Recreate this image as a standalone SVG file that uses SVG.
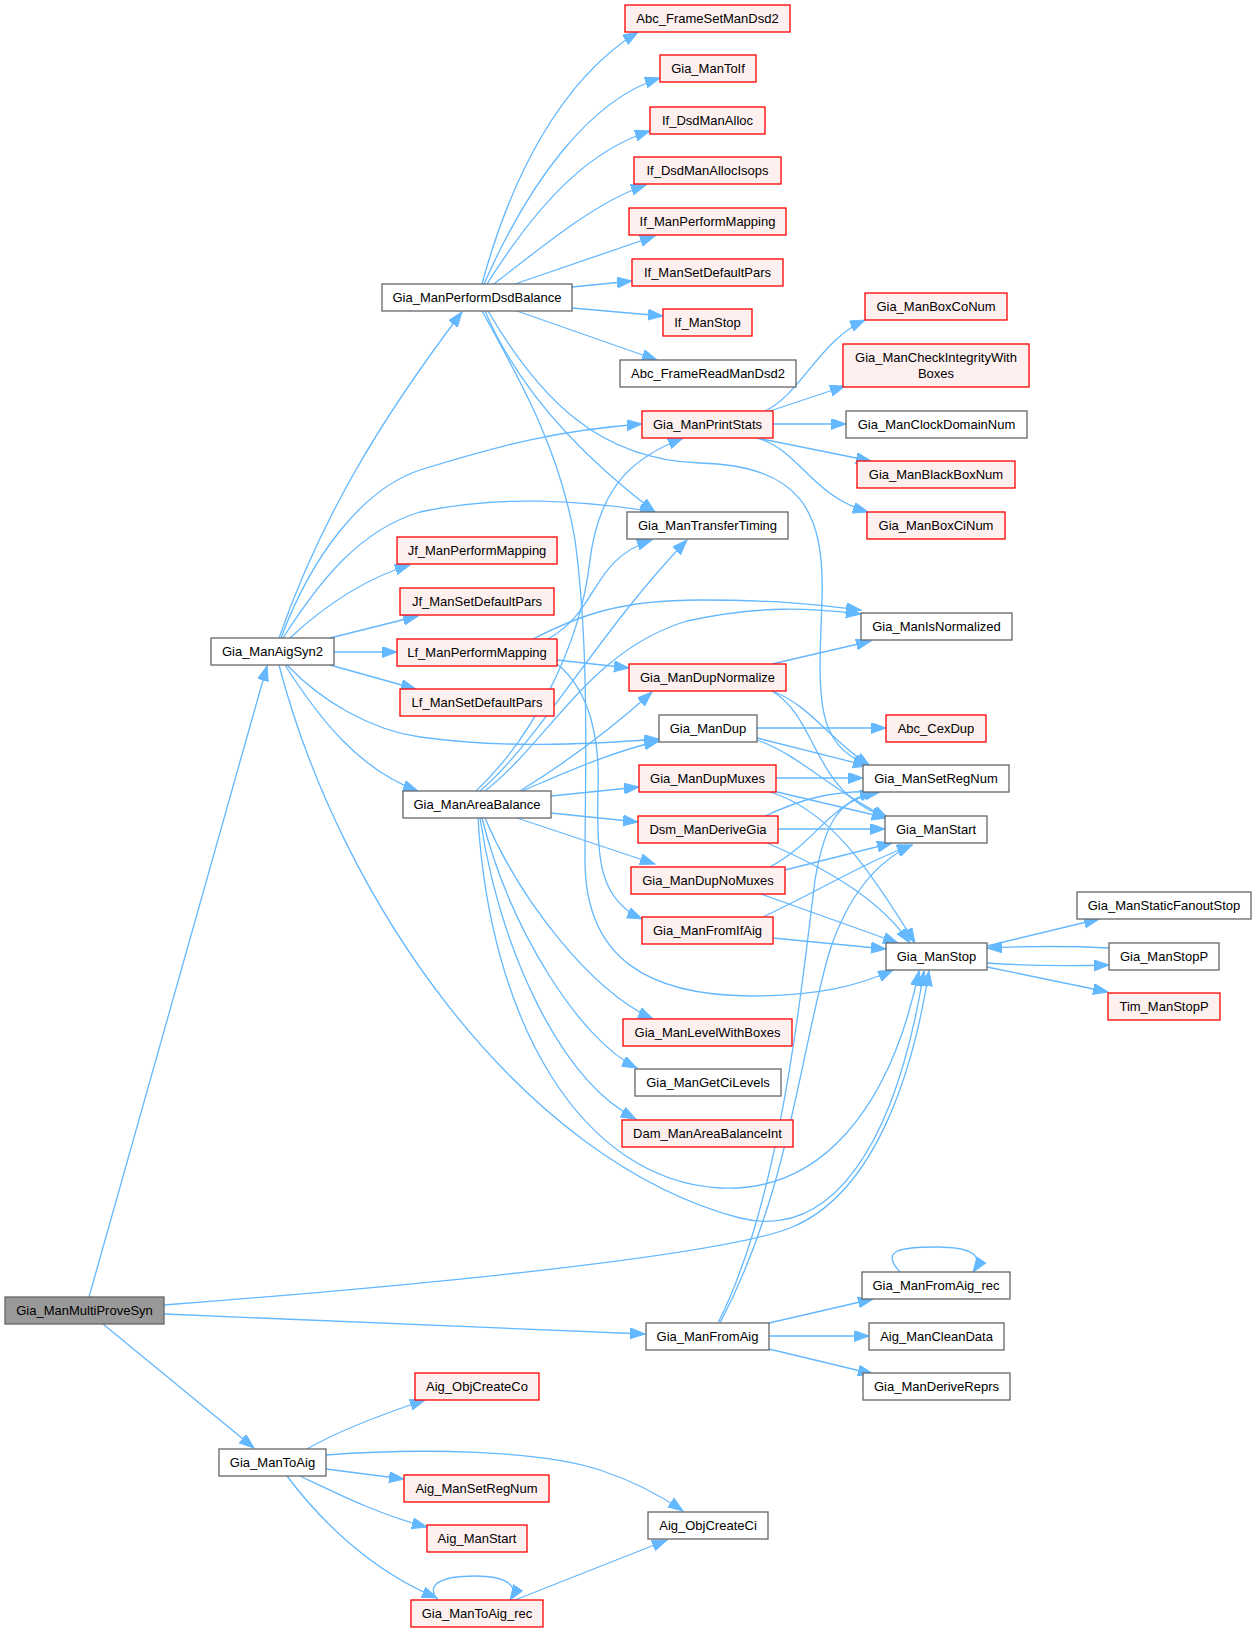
<svg xmlns="http://www.w3.org/2000/svg" width="1257" height="1632" viewBox="0 0 1257 1632">
<style>
rect{fill:#fff;stroke:#666;stroke-width:1.3}
.r rect{fill:#fff0f0;stroke:#ff0000}
.root rect{fill:#999;stroke:#666}
text{font-family:"Liberation Sans",Arial,sans-serif;font-size:13px;text-anchor:middle;fill:#000}
#edges path{fill:none;stroke:#63b8ff;stroke-width:1.3;marker-end:url(#a)}
</style>
<defs>
<marker id="a" markerUnits="userSpaceOnUse" markerWidth="16" markerHeight="12" refX="15" refY="5.5" orient="auto"><path d="M0,0 L15,5.5 L0,11 z" fill="#63b8ff" stroke="#63b8ff" stroke-width="1"/></marker>
</defs>
<rect x="0" y="0" width="1257" height="1632" style="fill:#fff;stroke:none"/>
<g id="edges">
<path d="M89,1297 L267,666"/>
<path d="M164,1305 C450,1283 720,1255 790,1228 C880,1192 915,1060 929,971"/>
<path d="M164,1314 L645,1334"/>
<path d="M103,1324 L254,1448"/>
<path d="M279,638 C320,520 380,420 462,312"/>
<path d="M281,638 C310,560 360,490 420,470 C500,445 560,430 642,424"/>
<path d="M283,638 C320,580 360,530 420,512 C500,495 580,500 655,512"/>
<path d="M290,638 C320,610 360,580 410,565"/>
<path d="M330,638 L418,616"/>
<path d="M334,652 L397,652"/>
<path d="M330,665 L416,689"/>
<path d="M287,665 C320,700 370,730 420,737 C500,748 580,745 659,739"/>
<path d="M285,665 C320,720 360,770 418,791"/>
<path d="M279,665 C340,900 520,1160 740,1218 C830,1240 895,1150 924,971"/>
<path d="M482,284 C510,180 560,80 638,32"/>
<path d="M484,284 C530,180 590,100 660,78"/>
<path d="M487,284 C540,200 590,150 650,131"/>
<path d="M494,284 C550,240 600,200 646,185"/>
<path d="M515,284 L655,236"/>
<path d="M572,287 L632,281"/>
<path d="M572,308 L663,316"/>
<path d="M517,311 L657,360"/>
<path d="M485,311 C510,370 560,440 655,512"/>
<path d="M488,311 C540,400 600,460 700,463 C800,466 825,510 822,600 C818,700 815,745 869,765"/>
<path d="M482,311 C520,380 560,450 575,540 C590,650 585,780 585,860 C585,960 650,995 750,996 C820,996 860,985 893,970"/>
<path d="M765,411 C800,395 820,340 865,320"/>
<path d="M770,411 L845,386"/>
<path d="M773,424 L846,424"/>
<path d="M757,438 L871,461"/>
<path d="M757,438 C800,450 810,495 868,512"/>
<path d="M548,639 C600,610 590,560 652,540"/>
<path d="M533,639 C580,615 620,600 700,600 C780,600 820,605 861,610"/>
<path d="M557,660 L629,668"/>
<path d="M557,664 C590,690 600,740 598,790 C596,860 600,900 642,919"/>
<path d="M476,791 C530,740 580,650 590,560 C600,480 640,455 683,438"/>
<path d="M480,791 C540,740 600,630 687,540"/>
<path d="M485,791 C550,740 590,650 687,621 C760,605 810,608 861,614"/>
<path d="M520,791 C570,760 610,730 652,692"/>
<path d="M522,791 C560,775 610,752 659,741"/>
<path d="M551,796 L639,787"/>
<path d="M551,813 L638,822"/>
<path d="M517,818 L655,864"/>
<path d="M485,818 C520,900 590,990 653,1019"/>
<path d="M482,818 C510,930 580,1040 637,1068"/>
<path d="M480,818 C500,950 560,1080 636,1119"/>
<path d="M478,818 C490,1020 580,1180 720,1188 C820,1193 890,1110 919,971"/>
<path d="M772,664 L871,641"/>
<path d="M772,691 C810,705 830,740 870,766"/>
<path d="M772,691 C820,720 810,790 887,818"/>
<path d="M757,728 L886,728"/>
<path d="M757,738 L868,766"/>
<path d="M757,740 C800,755 830,790 888,818"/>
<path d="M776,778 L863,778"/>
<path d="M773,791 L887,818"/>
<path d="M770,792 C830,810 870,870 915,943"/>
<path d="M778,829 L885,829"/>
<path d="M765,816 C800,800 830,790 878,792"/>
<path d="M767,843 C830,870 880,900 910,943"/>
<path d="M770,867 C820,840 830,800 880,792"/>
<path d="M785,870 L892,843"/>
<path d="M758,893 L898,943"/>
<path d="M763,917 C820,890 870,860 912,845"/>
<path d="M773,938 L886,949"/>
<path d="M987,946 L1099,919"/>
<path d="M987,963 C1030,966 1070,966 1109,965"/>
<path d="M1109,948 C1070,946 1030,946 987,948"/>
<path d="M987,967 L1108,992"/>
<path d="M769,1323 L873,1299"/>
<path d="M769,1336 L869,1336"/>
<path d="M769,1349 L873,1374"/>
<path d="M718,1323 C780,1200 800,1000 815,880 C825,820 840,800 875,792"/>
<path d="M720,1323 C790,1190 800,1050 830,950 C850,890 880,860 912,845"/>
<path d="M900,1272 C880,1250 900,1247 937,1247 C970,1247 985,1255 973,1272"/>
<path d="M307,1449 C340,1430 380,1415 425,1400"/>
<path d="M326,1455 C420,1448 540,1450 600,1470 C630,1480 660,1495 683,1511"/>
<path d="M326,1469 L404,1479"/>
<path d="M300,1476 C340,1495 380,1515 427,1527"/>
<path d="M287,1476 C320,1520 370,1570 437,1598"/>
<path d="M438,1600 C425,1585 440,1576 475,1576 C505,1576 520,1585 510,1600"/>
<path d="M515,1600 L667,1540"/>
</g>
<g id="n0" class="root"><rect x="5" y="1297" width="159" height="27"/><text x="84.5" y="1315">Gia_ManMultiProveSyn</text></g>
<g id="n1"><rect x="211" y="638" width="123" height="27"/><text x="272.5" y="656">Gia_ManAigSyn2</text></g>
<g id="n2"><rect x="382" y="284" width="190" height="27"/><text x="477" y="302">Gia_ManPerformDsdBalance</text></g>
<g id="n3" class="r"><rect x="625" y="5" width="165" height="27"/><text x="707.5" y="23">Abc_FrameSetManDsd2</text></g>
<g id="n4" class="r"><rect x="660" y="55" width="96" height="27"/><text x="708" y="73">Gia_ManToIf</text></g>
<g id="n5" class="r"><rect x="650" y="107" width="115" height="27"/><text x="707.5" y="125">If_DsdManAlloc</text></g>
<g id="n6" class="r"><rect x="634" y="157" width="147" height="27"/><text x="707.5" y="175">If_DsdManAllocIsops</text></g>
<g id="n7" class="r"><rect x="629" y="208" width="157" height="27"/><text x="707.5" y="226">If_ManPerformMapping</text></g>
<g id="n8" class="r"><rect x="632" y="259" width="151" height="27"/><text x="707.5" y="277">If_ManSetDefaultPars</text></g>
<g id="n9" class="r"><rect x="663" y="309" width="89" height="27"/><text x="707.5" y="327">If_ManStop</text></g>
<g id="n10"><rect x="620" y="360" width="176" height="27"/><text x="708" y="378">Abc_FrameReadManDsd2</text></g>
<g id="n11" class="r"><rect x="642" y="411" width="131" height="27"/><text x="707.5" y="429">Gia_ManPrintStats</text></g>
<g id="n12" class="r"><rect x="865" y="293" width="142" height="27"/><text x="936" y="311">Gia_ManBoxCoNum</text></g>
<g id="n13" class="r"><rect x="843" y="344" width="186" height="43"/><text x="936" y="362">Gia_ManCheckIntegrityWith</text><text x="936" y="378">Boxes</text></g>
<g id="n14"><rect x="846" y="411" width="181" height="27"/><text x="936.5" y="429">Gia_ManClockDomainNum</text></g>
<g id="n15" class="r"><rect x="857" y="461" width="158" height="27"/><text x="936" y="479">Gia_ManBlackBoxNum</text></g>
<g id="n16" class="r"><rect x="867" y="512" width="138" height="27"/><text x="936" y="530">Gia_ManBoxCiNum</text></g>
<g id="n17"><rect x="627" y="512" width="161" height="27"/><text x="707.5" y="530">Gia_ManTransferTiming</text></g>
<g id="n18" class="r"><rect x="397" y="537" width="160" height="27"/><text x="477" y="555">Jf_ManPerformMapping</text></g>
<g id="n19" class="r"><rect x="400" y="588" width="154" height="27"/><text x="477" y="606">Jf_ManSetDefaultPars</text></g>
<g id="n20" class="r"><rect x="397" y="639" width="160" height="27"/><text x="477" y="657">Lf_ManPerformMapping</text></g>
<g id="n21" class="r"><rect x="400" y="689" width="154" height="27"/><text x="477" y="707">Lf_ManSetDefaultPars</text></g>
<g id="n22"><rect x="861" y="613" width="151" height="27"/><text x="936.5" y="631">Gia_ManIsNormalized</text></g>
<g id="n23" class="r"><rect x="629" y="664" width="157" height="27"/><text x="707.5" y="682">Gia_ManDupNormalize</text></g>
<g id="n24"><rect x="659" y="715" width="98" height="27"/><text x="708" y="733">Gia_ManDup</text></g>
<g id="n25" class="r"><rect x="886" y="715" width="100" height="27"/><text x="936" y="733">Abc_CexDup</text></g>
<g id="n26"><rect x="863" y="765" width="146" height="27"/><text x="936" y="783">Gia_ManSetRegNum</text></g>
<g id="n27" class="r"><rect x="639" y="765" width="137" height="27"/><text x="707.5" y="783">Gia_ManDupMuxes</text></g>
<g id="n28"><rect x="403" y="791" width="148" height="27"/><text x="477" y="809">Gia_ManAreaBalance</text></g>
<g id="n29" class="r"><rect x="638" y="816" width="140" height="27"/><text x="708" y="834">Dsm_ManDeriveGia</text></g>
<g id="n30"><rect x="885" y="816" width="102" height="27"/><text x="936" y="834">Gia_ManStart</text></g>
<g id="n31" class="r"><rect x="631" y="867" width="154" height="27"/><text x="708" y="885">Gia_ManDupNoMuxes</text></g>
<g id="n32" class="r"><rect x="642" y="917" width="131" height="27"/><text x="707.5" y="935">Gia_ManFromIfAig</text></g>
<g id="n33"><rect x="1077" y="892" width="174" height="27"/><text x="1164" y="910">Gia_ManStaticFanoutStop</text></g>
<g id="n34"><rect x="886" y="943" width="101" height="27"/><text x="936.5" y="961">Gia_ManStop</text></g>
<g id="n35"><rect x="1109" y="943" width="110" height="27"/><text x="1164" y="961">Gia_ManStopP</text></g>
<g id="n36" class="r"><rect x="1108" y="993" width="112" height="27"/><text x="1164" y="1011">Tim_ManStopP</text></g>
<g id="n37" class="r"><rect x="623" y="1019" width="169" height="27"/><text x="707.5" y="1037">Gia_ManLevelWithBoxes</text></g>
<g id="n38"><rect x="635" y="1069" width="146" height="27"/><text x="708" y="1087">Gia_ManGetCiLevels</text></g>
<g id="n39" class="r"><rect x="622" y="1120" width="171" height="27"/><text x="707.5" y="1138">Dam_ManAreaBalanceInt</text></g>
<g id="n40"><rect x="862" y="1272" width="148" height="27"/><text x="936" y="1290">Gia_ManFromAig_rec</text></g>
<g id="n41"><rect x="869" y="1323" width="135" height="27"/><text x="936.5" y="1341">Aig_ManCleanData</text></g>
<g id="n42"><rect x="863" y="1373" width="147" height="27"/><text x="936.5" y="1391">Gia_ManDeriveReprs</text></g>
<g id="n43"><rect x="646" y="1323" width="123" height="27"/><text x="707.5" y="1341">Gia_ManFromAig</text></g>
<g id="n44" class="r"><rect x="415" y="1373" width="124" height="27"/><text x="477" y="1391">Aig_ObjCreateCo</text></g>
<g id="n45"><rect x="219" y="1449" width="107" height="27"/><text x="272.5" y="1467">Gia_ManToAig</text></g>
<g id="n46" class="r"><rect x="404" y="1475" width="145" height="27"/><text x="476.5" y="1493">Aig_ManSetRegNum</text></g>
<g id="n47" class="r"><rect x="427" y="1525" width="100" height="27"/><text x="477" y="1543">Aig_ManStart</text></g>
<g id="n48"><rect x="648" y="1512" width="120" height="27"/><text x="708" y="1530">Aig_ObjCreateCi</text></g>
<g id="n49" class="r"><rect x="411" y="1600" width="132" height="27"/><text x="477" y="1618">Gia_ManToAig_rec</text></g>
</svg>
